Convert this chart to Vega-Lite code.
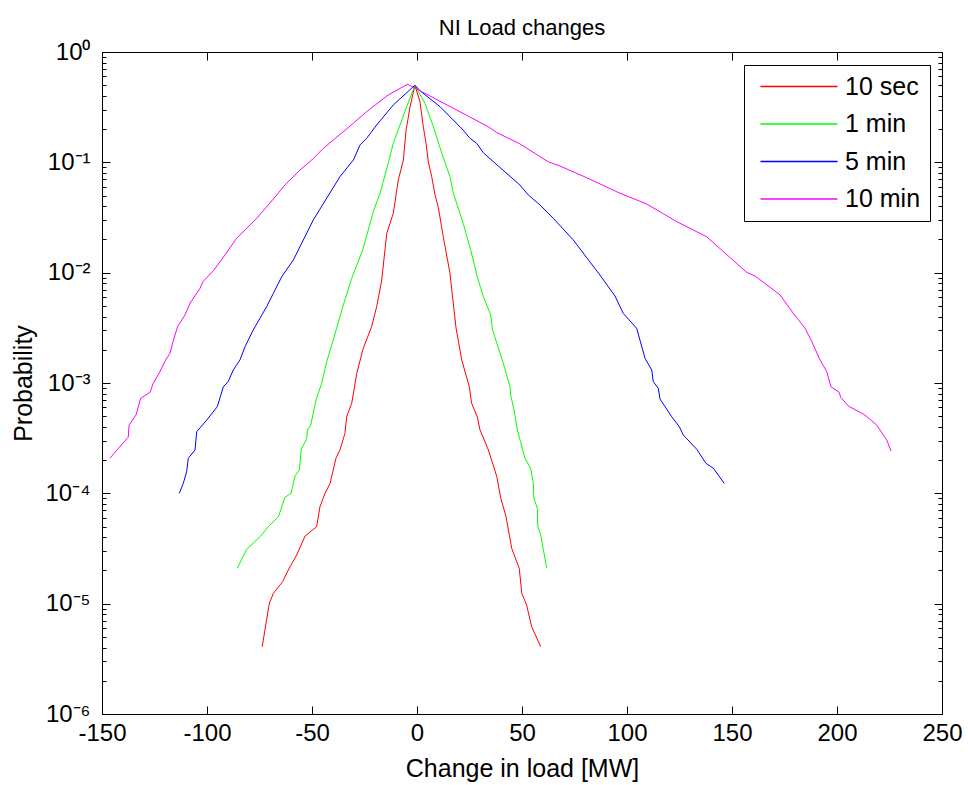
{
  "$schema": "https://vega.github.io/schema/vega-lite/v6.json",
  "width": 840,
  "height": 662,
  "autosize": {"type": "none"},
  "padding": {"left": 102, "top": 52, "right": 26, "bottom": 71},
  "background": "white",
  "title": {"text": "NI Load changes", "fontSize": 22, "fontWeight": "normal", "font": "Liberation Sans", "color": "black", "anchor": "middle", "offset": 0},
  "config": {
    "font": "Liberation Sans",
    "view": {"stroke": "black", "strokeWidth": 1},
    "axis": {"grid": false, "domainColor": "black", "tickColor": "black", "labelColor": "black", "titleColor": "black", "labelFontSize": 24, "titleFontSize": 25, "titleFontWeight": "normal", "labelFlush": false, "labelOverlap": false, "labelFont": "Liberation Sans", "titleFont": "Liberation Sans"}
  },
  "data": {"values": [
    {"s":"10 sec","x":-73.7,"p":4.07e-6},{"s":"10 sec","x":-71.9,"p":6.64e-6},{"s":"10 sec","x":-70.3,"p":1.01e-5},{"s":"10 sec","x":-68.4,"p":1.24e-5},{"s":"10 sec","x":-64.0,"p":1.58e-5},{"s":"10 sec","x":-61.3,"p":2.02e-5},{"s":"10 sec","x":-57.3,"p":2.76e-5},{"s":"10 sec","x":-53.3,"p":4.10e-5},{"s":"10 sec","x":-47.8,"p":4.98e-5},{"s":"10 sec","x":-46.2,"p":7.57e-5},{"s":"10 sec","x":-43.8,"p":1.0e-4},{"s":"10 sec","x":-41.4,"p":1.23e-4},{"s":"10 sec","x":-38.6,"p":2.08e-4},{"s":"10 sec","x":-36.7,"p":2.47e-4},{"s":"10 sec","x":-34.3,"p":3.50e-4},{"s":"10 sec","x":-33.5,"p":4.94e-4},{"s":"10 sec","x":-31.1,"p":6.55e-4},{"s":"10 sec","x":-30.0,"p":8.64e-4},{"s":"10 sec","x":-28.7,"p":1.22e-3},{"s":"10 sec","x":-25.6,"p":2.06e-3},{"s":"10 sec","x":-21.6,"p":3.24e-3},{"s":"10 sec","x":-19.2,"p":4.92e-3},{"s":"10 sec","x":-16.8,"p":8.58e-3},{"s":"10 sec","x":-14.4,"p":2.27e-2},{"s":"10 sec","x":-11.3,"p":3.45e-2},{"s":"10 sec","x":-8.9,"p":6.92e-2},{"s":"10 sec","x":-6.5,"p":0.105},{"s":"10 sec","x":-5.2,"p":0.196},{"s":"10 sec","x":-3.3,"p":0.319},{"s":"10 sec","x":-1,"p":0.5},
    {"s":"10 sec","x":1.4,"p":0.355},{"s":"10 sec","x":3.0,"p":0.21},{"s":"10 sec","x":4.3,"p":0.149},{"s":"10 sec","x":5.4,"p":0.101},{"s":"10 sec","x":7.0,"p":0.0741},{"s":"10 sec","x":8.6,"p":0.0506},{"s":"10 sec","x":10.1,"p":0.0396},{"s":"10 sec","x":12.5,"p":0.0212},{"s":"10 sec","x":15.7,"p":9.86e-3},{"s":"10 sec","x":17.0,"p":5.89e-3},{"s":"10 sec","x":18.6,"p":3.15e-3},{"s":"10 sec","x":21.3,"p":1.62e-3},{"s":"10 sec","x":24.9,"p":9.25e-4},{"s":"10 sec","x":26.0,"p":6.55e-4},{"s":"10 sec","x":28.7,"p":4.94e-4},{"s":"10 sec","x":30.0,"p":3.75e-4},{"s":"10 sec","x":34.0,"p":2.47e-4},{"s":"10 sec","x":38.0,"p":1.42e-4},{"s":"10 sec","x":39.9,"p":9.01e-5},{"s":"10 sec","x":42.4,"p":6.14e-5},{"s":"10 sec","x":45.1,"p":3.17e-5},{"s":"10 sec","x":48.7,"p":2.09e-5},{"s":"10 sec","x":49.9,"p":1.24e-5},{"s":"10 sec","x":52.2,"p":9.72e-6},{"s":"10 sec","x":54.6,"p":6.18e-6},{"s":"10 sec","x":58.9,"p":4.07e-6},
    {"s":"1 min","x":-85.6,"p":2.09e-5},{"s":"1 min","x":-81.1,"p":3.11e-5},{"s":"1 min","x":-74.8,"p":4.04e-5},{"s":"1 min","x":-70.8,"p":4.98e-5},{"s":"1 min","x":-66.0,"p":6.14e-5},{"s":"1 min","x":-62.9,"p":9.2e-5},{"s":"1 min","x":-60.0,"p":1.0e-4},{"s":"1 min","x":-58.1,"p":1.44e-4},{"s":"1 min","x":-56.0,"p":1.63e-4},{"s":"1 min","x":-55.2,"p":2.47e-4},{"s":"1 min","x":-52.5,"p":3.15e-4},{"s":"1 min","x":-52.2,"p":3.75e-4},{"s":"1 min","x":-50.6,"p":4.16e-4},{"s":"1 min","x":-48.1,"p":7.01e-4},{"s":"1 min","x":-45.4,"p":9.94e-4},{"s":"1 min","x":-43.0,"p":1.56e-3},{"s":"1 min","x":-39.9,"p":2.45e-3},{"s":"1 min","x":-35.1,"p":5.09e-3},{"s":"1 min","x":-31.1,"p":8.89e-3},{"s":"1 min","x":-25.9,"p":1.6e-2},{"s":"1 min","x":-20.8,"p":3.57e-2},{"s":"1 min","x":-17.6,"p":5.24e-2},{"s":"1 min","x":-13.7,"p":9.8e-2},{"s":"1 min","x":-11.3,"p":0.149},{"s":"1 min","x":-4.9,"p":0.319},{"s":"1 min","x":-1,"p":0.5},
    {"s":"1 min","x":3.8,"p":0.343},{"s":"1 min","x":7.8,"p":0.21},{"s":"1 min","x":11.8,"p":0.121},{"s":"1 min","x":15.7,"p":0.0741},{"s":"1 min","x":17.3,"p":0.0524},{"s":"1 min","x":22.0,"p":0.028},{"s":"1 min","x":25.6,"p":0.016},{"s":"1 min","x":28.7,"p":9.19e-3},{"s":"1 min","x":31.6,"p":6.06e-3},{"s":"1 min","x":35.1,"p":4.13e-3},{"s":"1 min","x":36.0,"p":3.02e-3},{"s":"1 min","x":41.1,"p":1.51e-3},{"s":"1 min","x":44.3,"p":9.25e-4},{"s":"1 min","x":44.6,"p":7.78e-4},{"s":"1 min","x":46.2,"p":5.69e-4},{"s":"1 min","x":48.0,"p":3.62e-4},{"s":"1 min","x":51.4,"p":2.08e-4},{"s":"1 min","x":54.1,"p":1.69e-4},{"s":"1 min","x":55.4,"p":1.23e-4},{"s":"1 min","x":55.7,"p":9.01e-5},{"s":"1 min","x":57.3,"p":7.31e-5},{"s":"1 min","x":57.5,"p":5.06e-5},{"s":"1 min","x":58.9,"p":4.19e-5},{"s":"1 min","x":61.8,"p":2.09e-5},
    {"s":"5 min","x":-113.2,"p":1.0e-4},{"s":"5 min","x":-111.3,"p":1.23e-4},{"s":"5 min","x":-109.7,"p":1.57e-4},{"s":"5 min","x":-108.9,"p":2.08e-4},{"s":"5 min","x":-105.7,"p":2.47e-4},{"s":"5 min","x":-104.9,"p":3.62e-4},{"s":"5 min","x":-100.1,"p":4.62e-4},{"s":"5 min","x":-95.1,"p":6.1e-4},{"s":"5 min","x":-92.2,"p":9.25e-4},{"s":"5 min","x":-89.9,"p":1.03e-3},{"s":"5 min","x":-87.5,"p":1.31e-3},{"s":"5 min","x":-84.3,"p":1.62e-3},{"s":"5 min","x":-81.9,"p":2.13e-3},{"s":"5 min","x":-78.0,"p":3.02e-3},{"s":"5 min","x":-71.6,"p":4.92e-3},{"s":"5 min","x":-68.4,"p":6.5e-3},{"s":"5 min","x":-64.4,"p":9.19e-3},{"s":"5 min","x":-58.9,"p":1.3e-2},{"s":"5 min","x":-49.4,"p":3.0e-2},{"s":"5 min","x":-36.7,"p":7.41e-2},{"s":"5 min","x":-30.3,"p":0.105},{"s":"5 min","x":-27.1,"p":0.144},{"s":"5 min","x":-24.0,"p":0.165},{"s":"5 min","x":-19.2,"p":0.218},{"s":"5 min","x":-11.3,"p":0.331},{"s":"5 min","x":-1,"p":0.5},
    {"s":"5 min","x":1.4,"p":0.446},{"s":"5 min","x":11.0,"p":0.319},{"s":"5 min","x":22.0,"p":0.196},{"s":"5 min","x":25.2,"p":0.165},{"s":"5 min","x":28.4,"p":0.149},{"s":"5 min","x":31.6,"p":0.122},{"s":"5 min","x":38.7,"p":0.0926},{"s":"5 min","x":49.0,"p":0.0623},{"s":"5 min","x":53.0,"p":0.0506},{"s":"5 min","x":58.6,"p":0.041},{"s":"5 min","x":64.9,"p":0.0311},{"s":"5 min","x":74.4,"p":0.0198},{"s":"5 min","x":87.1,"p":9.52e-3},{"s":"5 min","x":94.3,"p":6.14e-3},{"s":"5 min","x":98.2,"p":4.28e-3},{"s":"5 min","x":104.6,"p":3.13e-3},{"s":"5 min","x":108.6,"p":1.67e-3},{"s":"5 min","x":111.8,"p":1.31e-3},{"s":"5 min","x":112.5,"p":1.03e-3},{"s":"5 min","x":114.9,"p":8.95e-4},{"s":"5 min","x":115.7,"p":7.16e-4},{"s":"5 min","x":121.3,"p":4.94e-4},{"s":"5 min","x":124.9,"p":4.02e-4},{"s":"5 min","x":126.8,"p":3.38e-4},{"s":"5 min","x":133.2,"p":2.51e-4},{"s":"5 min","x":137.6,"p":1.87e-4},{"s":"5 min","x":141.1,"p":1.69e-4},{"s":"5 min","x":146.3,"p":1.23e-4},
    {"s":"10 min","x":-146.2,"p":2.08e-4},{"s":"10 min","x":-142.2,"p":2.56e-4},{"s":"10 min","x":-137.5,"p":3.22e-4},{"s":"10 min","x":-137.1,"p":4.16e-4},{"s":"10 min","x":-133.8,"p":5.13e-4},{"s":"10 min","x":-131.6,"p":7.26e-4},{"s":"10 min","x":-127.1,"p":8.24e-4},{"s":"10 min","x":-125.6,"p":9.94e-4},{"s":"10 min","x":-122.4,"p":1.27e-3},{"s":"10 min","x":-119.7,"p":1.62e-3},{"s":"10 min","x":-117.6,"p":1.86e-3},{"s":"10 min","x":-116.0,"p":2.45e-3},{"s":"10 min","x":-114.0,"p":3.24e-3},{"s":"10 min","x":-110.5,"p":4.13e-3},{"s":"10 min","x":-108.1,"p":5.28e-3},{"s":"10 min","x":-103.3,"p":7.21e-3},{"s":"10 min","x":-102.0,"p":8.28e-3},{"s":"10 min","x":-97.0,"p":1.04e-2},{"s":"10 min","x":-91.4,"p":1.45e-2},{"s":"10 min","x":-85.9,"p":2.05e-2},{"s":"10 min","x":-76.3,"p":3.11e-2},{"s":"10 min","x":-66.8,"p":5.06e-2},{"s":"10 min","x":-62.9,"p":6.23e-2},{"s":"10 min","x":-55.7,"p":8.52e-2},{"s":"10 min","x":-50.1,"p":0.105},{"s":"10 min","x":-44.6,"p":0.134},{"s":"10 min","x":-39.9,"p":0.159},{"s":"10 min","x":-30.3,"p":0.226},{"s":"10 min","x":-24.0,"p":0.288},{"s":"10 min","x":-13.7,"p":0.408},{"s":"10 min","x":-4.5,"p":0.51},
    {"s":"10 min","x":1.4,"p":0.446},{"s":"10 min","x":17.3,"p":0.309},{"s":"10 min","x":34.0,"p":0.21},{"s":"10 min","x":38.0,"p":0.186},{"s":"10 min","x":49.0,"p":0.147},{"s":"10 min","x":62.5,"p":0.101},{"s":"10 min","x":68.1,"p":0.0926},{"s":"10 min","x":80.8,"p":0.0726},{"s":"10 min","x":96.7,"p":0.0524},{"s":"10 min","x":109.4,"p":0.0419},{"s":"10 min","x":123.7,"p":0.029},{"s":"10 min","x":138.0,"p":0.0211},{"s":"10 min","x":157.0,"p":1.007e-2},{"s":"10 min","x":161.0,"p":9.33e-3},{"s":"10 min","x":172.9,"p":6.28e-3},{"s":"10 min","x":179.2,"p":4.28e-3},{"s":"10 min","x":184.8,"p":3.13e-3},{"s":"10 min","x":188.0,"p":2.37e-3},{"s":"10 min","x":191.9,"p":1.62e-3},{"s":"10 min","x":195.1,"p":1.27e-3},{"s":"10 min","x":197.1,"p":9.25e-4},{"s":"10 min","x":201.0,"p":8.24e-4},{"s":"10 min","x":201.8,"p":7.42e-4},{"s":"10 min","x":205.4,"p":6.18e-4},{"s":"10 min","x":213.3,"p":5.13e-4},{"s":"10 min","x":218.9,"p":4.16e-4},{"s":"10 min","x":223.7,"p":3.04e-4},{"s":"10 min","x":225.7,"p":2.42e-4}
  ]},
  "layer": [
    {
      "mark": {"type": "line", "strokeWidth": 1, "clip": true},
      "encoding": {
        "x": {"field": "x", "type": "quantitative", "scale": {"domain": [-150, 250], "nice": false, "zero": false},
              "axis": {"orient": "bottom", "values": [-150, -100, -50, 0, 50, 100, 150, 200, 250], "tickSize": -8, "labelPadding": 15,
                       "labelExpr": "(datum.value < 0 ? '-' : '') + abs(datum.value)",
                       "title": "Change in load [MW]", "titlePadding": 11}},
        "y": {"field": "p", "type": "quantitative", "scale": {"type": "log", "domain": [1e-6, 1], "nice": false},
              "axis": {"orient": "left",
                       "values": [1e-6,2e-6,3e-6,4e-6,5e-6,6e-6,7e-6,8e-6,9e-6,1e-5,2e-5,3e-5,4e-5,5e-5,6e-5,7e-5,8e-5,9e-5,1e-4,2e-4,3e-4,4e-4,5e-4,6e-4,7e-4,8e-4,9e-4,1e-3,2e-3,3e-3,4e-3,5e-3,6e-3,7e-3,8e-3,9e-3,0.01,0.02,0.03,0.04,0.05,0.06,0.07,0.08,0.09,0.1,0.2,0.3,0.4,0.5,0.6,0.7,0.8,0.9,1],
                       "tickSize": {"condition": {"test": "abs(log(datum.value)/LN10 - round(log(datum.value)/LN10)) < 0.001", "value": -8}, "value": -4},
                       "labelExpr": "abs(log(datum.value)/LN10 - round(log(datum.value)/LN10)) < 0.001 ? ('10' + (round(log(datum.value)/LN10) == 0 ? '⁰' : '⁻' + ['⁰','¹','²','³','⁴','⁵','⁶'][-round(log(datum.value)/LN10)])) : ''",
                       "labelPadding": 20, "title": "Probability", "titlePadding": 8}},
        "color": {"field": "s", "type": "nominal",
                  "scale": {"domain": ["10 sec", "1 min", "5 min", "10 min"], "range": ["#ff0000", "#00ff00", "#0000ff", "#ff00ff"]},
                  "legend": {"title": null, "orient": "none", "legendX": 642, "legendY": 13, "strokeColor": "black", "fillColor": "white", "padding": 9, "symbolType": "M-2,0H36.5", "symbolSize": 16, "symbolStrokeWidth": 1.6, "symbolOffset": -1, "labelFontSize": 25, "labelFont": "Liberation Sans", "labelColor": "black", "labelOffset": 68, "rowPadding": 11.5}}
      }
    },
    {
      "mark": {"type": "line", "opacity": 0},
      "encoding": {
        "x": {"field": "x", "type": "quantitative", "scale": {"domain": [-150, 250], "nice": false, "zero": false},
              "axis": {"orient": "top", "values": [-150, -100, -50, 0, 50, 100, 150, 200, 250], "tickSize": -8, "labels": false, "title": null}},
        "y": {"field": "p", "type": "quantitative", "scale": {"type": "log", "domain": [1e-6, 1], "nice": false},
              "axis": {"orient": "right",
                       "values": [1e-6,2e-6,3e-6,4e-6,5e-6,6e-6,7e-6,8e-6,9e-6,1e-5,2e-5,3e-5,4e-5,5e-5,6e-5,7e-5,8e-5,9e-5,1e-4,2e-4,3e-4,4e-4,5e-4,6e-4,7e-4,8e-4,9e-4,1e-3,2e-3,3e-3,4e-3,5e-3,6e-3,7e-3,8e-3,9e-3,0.01,0.02,0.03,0.04,0.05,0.06,0.07,0.08,0.09,0.1,0.2,0.3,0.4,0.5,0.6,0.7,0.8,0.9,1],
                       "tickSize": {"condition": {"test": "abs(log(datum.value)/LN10 - round(log(datum.value)/LN10)) < 0.001", "value": -8}, "value": -4},
                       "labels": false, "title": null}},
        "detail": {"field": "s"}
      }
    }
  ],
  "resolve": {"axis": {"x": "independent", "y": "independent"}}
}
